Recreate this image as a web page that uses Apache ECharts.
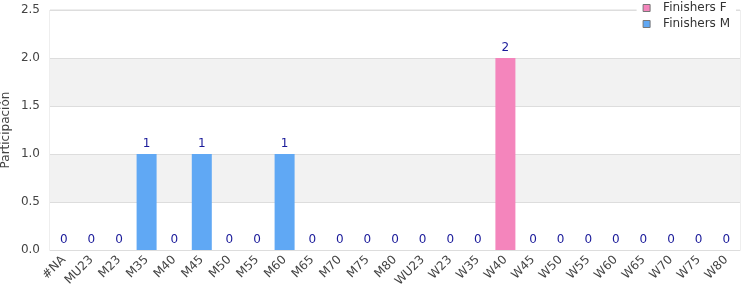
<!DOCTYPE html>
<html><head><meta charset="utf-8">
<script src="https://cdn.jsdelivr.net/npm/echarts@6/dist/echarts.min.js"></script>
<style>html,body{margin:0;padding:0;background:#fff}#c{width:750px;height:300px}</style>
</head><body><div id="c"></div>
<script>
var categories = ["#NA","MU23","M23","M35","M40","M45","M50","M55","M60","M65","M70","M75","M80","WU23","W23","W35","W40","W45","W50","W55","W60","W65","W70","W75","W80"];
var finishersF = [0,0,0,0,0,0,0,0,0,0,0,0,0,0,0,0,2,0,0,0,0,0,0,0,0];
var finishersM = [0,0,0,1,0,1,0,0,1,0,0,0,0,0,0,0,0,0,0,0,0,0,0,0,0];
var yTicks = [0, 0.5, 1.0, 1.5, 2.0, 2.5];

var chart = echarts.init(document.getElementById('c'));
chart.setOption({
  animation: false,
  textStyle: {fontFamily: 'DejaVu Sans'},
  grid: {left: 50, right: 10, top: 10, bottom: 50, containLabel: false, outerBoundsMode: 'none',
         show: true, borderColor: '#dddddd', borderWidth: 1},
  legend: {
    orient: 'vertical', right: 14, top: 1, itemWidth: 7, itemHeight: 7, itemGap: 4,
    backgroundColor: '#ffffff', padding: [1, 6, 3, 6],
    textStyle: {fontSize: 12, color: '#333', padding: [0, 0, 0, 8]},
    data: [
      {name: 'Finishers F', icon: 'rect', itemStyle: {borderColor: '#777', borderWidth: 1}},
      {name: 'Finishers M', icon: 'rect', itemStyle: {borderColor: '#777', borderWidth: 1}}
    ]
  },
  xAxis: {
    type: 'category', data: categories,
    axisLine: {lineStyle: {color: '#dddddd'}},
    axisTick: {show: false},
    axisLabel: {rotate: 45, color: '#444', fontSize: 12, interval: 0, margin: 8}
  },
  yAxis: {
    type: 'value', min: yTicks[0], max: yTicks[yTicks.length-1], interval: 0.5,
    name: 'Participación', nameLocation: 'middle', nameGap: 38, nameMoveOverlap: false,
    nameTextStyle: {color: '#444', fontSize: 12},
    axisLabel: {color: '#444', fontSize: 12, margin: 10, formatter: function(v){return v.toFixed(1);}},
    axisLine: {show: false},
    splitLine: {lineStyle: {color: '#dddddd'}},
    splitArea: {show: true, areaStyle: {color: ['#ffffff', '#f2f2f2']}}
  },
  series: [
    {name: 'Finishers F', type: 'bar', stack: 'a', data: finishersF, barWidth: 20,
     itemStyle: {color: '#f485bc'}},
    {name: 'Finishers M', type: 'bar', stack: 'a', data: finishersM, barWidth: 20,
     itemStyle: {color: '#60a8f4'},
     label: {show: true, position: 'top', color: '#1a1a9a', fontSize: 12, distance: 4,
       formatter: function(p){return String(finishersF[p.dataIndex] + finishersM[p.dataIndex]);}}}
  ]
});
</script></body></html>
